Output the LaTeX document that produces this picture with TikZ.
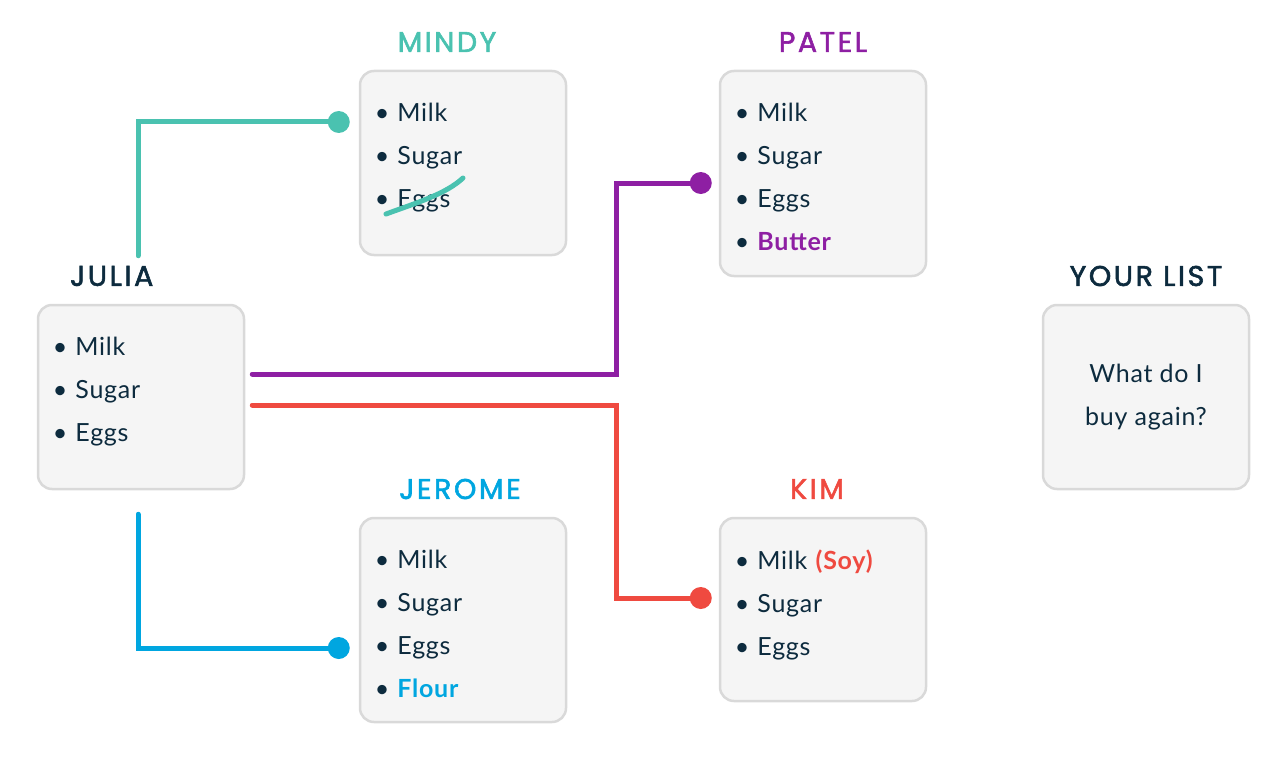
\documentclass[tikz,border=0pt]{standalone}
\usepackage{fontspec}
\setmainfont{Lato}[LetterSpace=3]
\newfontfamily\titlefont{Poppins}[LetterSpace=9, FakeBold=2]
\usepackage{xcolor}
\usetikzlibrary{calc, positioning}

\definecolor{ink}{HTML}{0D2B3E}
\definecolor{mindyc}{HTML}{4AC2B0}
\definecolor{patelc}{HTML}{8E1FA3}
\definecolor{kimc}{HTML}{EF4A40}
\definecolor{jeromec}{HTML}{00A6E0}
\definecolor{boxline}{HTML}{D9D9D9}
\definecolor{boxfill}{HTML}{F5F5F5}

\newcommand{\itm}[1]{\textbullet\hspace{8pt}#1}

\tikzset{
  listbox/.style={draw=boxline, line width=2.5pt, fill=boxfill, rounded corners=14pt,
    minimum width=206pt},
  items/.style={anchor=north west, inner sep=0pt, text width=180pt, align=left, text=ink,
    font=\fontsize{25}{43}\selectfont},
  title/.style={font=\titlefont\fontsize{28.5}{30}\selectfont, inner sep=0pt},
  link/.style={line width=5pt, line cap=round},
}

\begin{document}
\begin{tikzpicture}[x=1pt, y=-1pt]
    \useasboundingbox (0,0) rectangle (1287,773);
    % Boxes
    \node[listbox, minimum height=184pt] (julia) at (141,397) {};
    \node[listbox, minimum height=184pt] (mindy) at (463,163) {};
    \node[listbox, minimum height=205pt] (patel) at (823,173.5) {};
    \node[listbox, minimum height=204pt] (jerome) at (463,620) {};
    \node[listbox, minimum height=183pt] (kim) at (823,609.5) {};
    \node[listbox, minimum height=184pt, text=ink, align=center,
          font=\fontsize{25}{43}\selectfont] (yours) at (1146,397)
        {What do I\\ buy again?};

    % Shopping items
    \node[items] (julia-l) at ([xshift=16pt, yshift=-33pt]julia.north west)
        {\itm{Milk}\\ \itm{Sugar}\\ \itm{Eggs}};
    \node[items] (mindy-l) at ([xshift=16pt, yshift=-33pt]mindy.north west)
        {\itm{Milk}\\ \itm{Sugar}\\ \itm{Eggs}};
    \node[items] (patel-l) at ([xshift=16pt, yshift=-33pt]patel.north west)
        {\itm{Milk}\\ \itm{Sugar}\\ \itm{Eggs}\\ \itm{\textcolor{patelc}{\bfseries Butter}}};
    \node[items] (jerome-l) at ([xshift=16pt, yshift=-33pt]jerome.north west)
        {\itm{Milk}\\ \itm{Sugar}\\ \itm{Eggs}\\ \itm{\textcolor{jeromec}{\bfseries Flour}}};
    \node[items] (kim-l) at ([xshift=16pt, yshift=-33pt]kim.north west)
        {\itm{Milk \textcolor{kimc}{\bfseries(Soy)}}\\ \itm{Sugar}\\ \itm{Eggs}};

    % Titles
    \node[title, text=ink, anchor=west] (julia-t) at (70,276) {JULIA};
    \node[title, text=mindyc] (mindy-t) at (447,42) {MINDY};
    \node[title, text=patelc] (patel-t) at (823,42) {PATEL};
    \node[title, text=jeromec] (jerome-t) at (460,489) {JEROME};
    \node[title, text=kimc] (kim-t) at (817,489) {KIM};
    \node[title, text=ink] (yours-t) at (1146,276) {YOUR LIST};

    % Ends of the connectors
    \coordinate (julia-up) at ([xshift=-3pt, yshift=48pt]julia.north);
    \coordinate (julia-dn) at ([xshift=-3pt, yshift=-24pt]julia.south);
    \coordinate (julia-p) at ([xshift=7pt, yshift=23pt]julia.east);
    \coordinate (julia-k) at ([xshift=7pt, yshift=-8pt]julia.east);
    \coordinate (mindy-in) at ([xshift=-20pt, yshift=41pt]mindy.west);
    \coordinate (jerome-in) at ([xshift=-20pt, yshift=-28pt]jerome.west);
    \coordinate (patel-in) at ([xshift=-18pt, yshift=-9.5pt]patel.west);
    \coordinate (kim-in) at ([xshift=-18pt, yshift=11.5pt]kim.west);

    % Connectors
    \draw[link, mindyc] (julia-up) |- (mindy-in);
    \fill[mindyc] (mindy-in) circle (11);
    \draw[link, jeromec] (julia-dn) |- (jerome-in);
    \fill[jeromec] (jerome-in) circle (11);
    \draw[link, patelc] (julia-p) -| ([xshift=-84pt]patel-in) -- (patel-in);
    \fill[patelc] (patel-in) circle (11);
    \draw[link, kimc] (julia-k) -| ([xshift=-84pt]kim-in) -- (kim-in);
    \fill[kimc] (kim-in) circle (11);

    % Eggs crossed out
    \draw[link, mindyc] (386,214) .. controls (416,203) and (446,194) .. (463,178);
\end{tikzpicture}
\end{document}
